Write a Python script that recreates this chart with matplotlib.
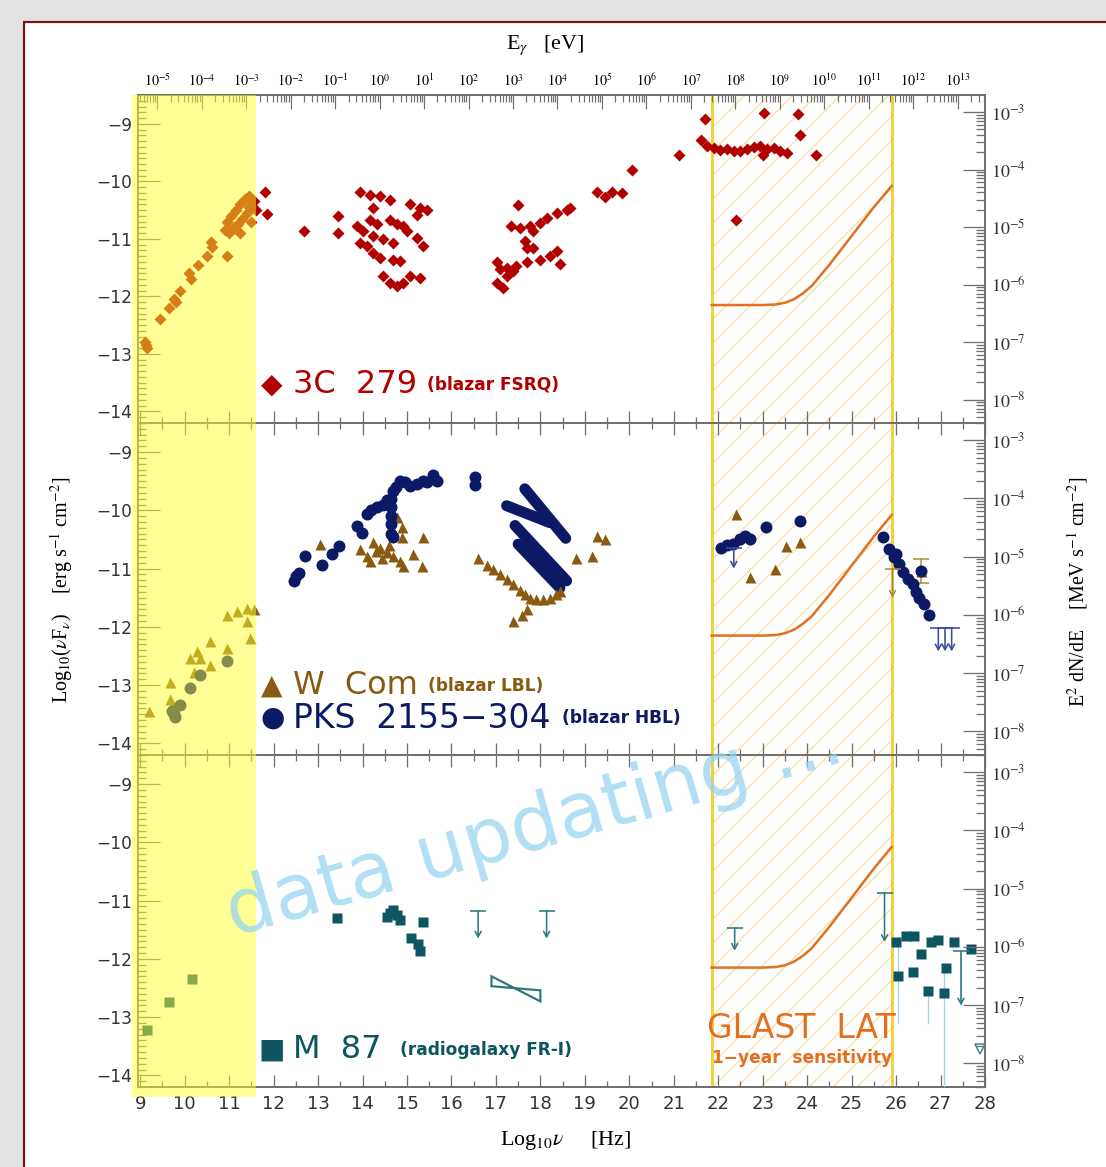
import numpy as np
import matplotlib
matplotlib.use("Agg")
import matplotlib.pyplot as plt
from matplotlib.patches import Rectangle
from matplotlib.ticker import MultipleLocator, LogLocator, FuncFormatter, NullFormatter

plt.rcParams['mathtext.fontset'] = 'stix'
plt.rcParams['hatch.linewidth'] = 1.6

# ---------------- data ----------------
# 3C 279 (log nu, log nuFnu)
c3_x = [9.10, 9.15, 9.12, 9.45, 9.65, 9.75, 9.80, 9.90, 10.10, 10.15, 10.30, 10.50, 10.60, 10.62, 10.95,
        10.90, 10.95, 11.00, 11.05, 11.10, 11.15, 11.20, 11.25, 11.30, 11.35, 11.40, 11.45, 11.50, 11.55,
        11.60, 11.25, 11.45, 11.05,
        11.81, 11.85, 12.69, 13.45, 13.45,
        13.94, 14.17, 14.39, 14.62, 14.24, 15.07, 15.29, 15.44, 15.22, 14.62, 14.77, 14.92, 14.99, 15.22,
        15.37, 13.87, 14.02, 14.24, 14.47, 14.69, 13.94, 14.09, 14.24, 14.39, 14.69, 14.84, 14.47, 14.62,
        14.77, 14.92, 15.07, 15.29, 14.17, 14.32,
        17.50, 17.35, 17.54, 17.77, 17.99, 18.14, 18.37, 18.59, 18.66, 17.84, 17.66, 17.69, 17.84, 17.02,
        17.09, 17.24, 17.46, 17.69, 17.99, 18.22, 18.37, 18.44, 17.02, 17.17, 17.24, 17.39,
        19.27, 19.45, 19.61, 19.83, 20.06, 21.11, 21.70, 21.61,
        21.75, 21.90, 22.05, 22.20, 22.35, 22.50, 22.65, 22.80, 22.95, 23.10, 23.25, 23.40, 23.55,
        23.04, 23.79, 23.83, 24.19, 22.39, 23.00]
c3_y = [-12.80, -12.90, -12.85, -12.40, -12.20, -12.05, -12.10, -11.90, -11.60, -11.70, -11.45, -11.30, -11.05, -11.15, -11.30,
        -10.85, -10.70, -10.90, -10.60, -10.80, -10.50, -10.75, -10.40, -10.65, -10.30, -10.55, -10.45, -10.70, -10.35,
        -10.50, -10.90, -10.25, -10.85,
        -10.18, -10.56, -10.87, -10.61, -10.90,
        -10.18, -10.24, -10.26, -10.32, -10.46, -10.40, -10.46, -10.49, -10.58, -10.67, -10.75, -10.78, -10.87, -10.98,
        -11.13, -10.78, -10.87, -10.95, -11.01, -11.07, -11.07, -11.13, -11.24, -11.33, -11.36, -11.39, -11.65, -11.76,
        -11.82, -11.76, -11.65, -11.68, -10.67, -10.75,
        -10.41, -10.78, -10.81, -10.78, -10.72, -10.63, -10.55, -10.49, -10.46, -10.86, -11.04, -11.16, -11.16, -11.41,
        -11.53, -11.50, -11.47, -11.41, -11.36, -11.30, -11.21, -11.44, -11.76, -11.85, -11.65, -11.56,
        -10.18, -10.28, -10.18, -10.21, -9.81, -9.55, -8.91, -9.28,
        -9.38, -9.42, -9.45, -9.43, -9.48, -9.47, -9.44, -9.40, -9.38, -9.43, -9.42, -9.48, -9.50,
        -8.81, -8.83, -9.19, -9.55, -10.68, -9.54]

# W Com
wc_x = [9.19, 9.67, 9.67, 9.71, 10.12, 10.27, 10.35, 10.57, 10.57, 10.20, 10.95, 10.95, 11.17, 11.40, 11.55, 11.40, 11.47,
        13.05, 13.95, 14.09, 14.24, 14.39, 14.54, 14.69, 14.84, 14.92, 14.77, 14.88, 14.88, 15.14, 15.33, 15.37,
        14.17, 14.43, 14.30, 14.60,
        16.60, 16.79, 16.94, 17.09, 17.24, 17.39, 17.54, 17.65, 17.76, 17.91, 18.06, 18.21, 18.36, 18.44,
        17.58, 17.39, 17.69, 18.81, 19.15, 19.27, 19.45,
        22.41, 23.53, 23.83, 23.27, 22.71, 22.41, 26.56]
wc_y = [-13.45, -12.94, -13.23, -13.34, -12.53, -12.42, -12.53, -12.25, -12.65, -12.77, -12.36, -11.79, -11.73, -11.67, -11.70, -11.90, -12.19,
        -10.58, -10.67, -10.78, -10.55, -10.64, -10.72, -10.78, -10.87, -10.95, -10.12, -10.29, -10.46, -10.75, -10.95, -10.46,
        -10.87, -10.81, -10.70, -10.60,
        -10.81, -10.93, -11.01, -11.10, -11.18, -11.27, -11.36, -11.44, -11.50, -11.53, -11.53, -11.50, -11.44, -11.39,
        -11.79, -11.90, -11.70, -10.81, -10.78, -10.44, -10.49,
        -10.06, -10.61, -10.55, -11.01, -11.15, -10.49, -11.04]
wc_err_x = [26.56]
wc_err_lo = [-11.25]
wc_err_hi = [-10.84]
wc_ul_x = [25.92]
wc_ul_cap = [-11.00]
wc_ul_tip = [-11.50]

# PKS 2155-304
pks_x = [9.71, 9.78, 9.90, 10.12, 10.35, 10.95, 9.75,
         12.45, 12.50, 12.56, 12.71, 13.08, 13.31, 13.46, 13.87, 13.98, 14.09, 14.32, 14.54, 14.69, 14.84,
         15.07, 15.22, 15.44, 15.59, 15.67, 14.65, 14.65, 14.65, 14.65, 14.65, 14.69, 14.20, 14.45, 14.75,
         14.95, 15.35,
         16.53, 16.53,
         22.07, 22.33, 22.60, 22.71, 23.08, 23.83, 22.20, 22.50,
         25.71, 25.85, 26.00, 26.07, 26.26, 26.37, 26.52, 26.56, 26.75, 25.95, 26.15, 26.45, 26.62]
pks_y = [-13.45, -13.54, -13.34, -13.05, -12.82, -12.59, -13.50,
         -11.21, -11.12, -11.07, -10.78, -10.93, -10.75, -10.61, -10.26, -10.38, -10.06, -9.95, -9.83, -9.66, -9.49,
         -9.58, -9.55, -9.52, -9.40, -9.49, -9.80, -9.95, -10.10, -10.24, -10.40, -10.46, -10.00, -9.90, -9.60,
         -9.52, -9.50,
         -9.43, -9.57,
         -10.64, -10.58, -10.44, -10.49, -10.29, -10.18, -10.60, -10.50,
         -10.46, -10.67, -10.75, -10.92, -11.18, -11.27, -11.50, -11.04, -11.79, -10.80, -11.05, -11.40, -11.60]
# X-ray spectra (bands)
pks_band1_x = [17.65, 18.57]
pks_band1_y = [-9.63, -10.48]
pks_band2_x = [17.24, 18.21]
pks_band2_y = [-9.92, -10.21]
pks_band3_x = [17.43, 18.59]
pks_band3_y = [-10.26, -11.21]
pks_band4_x = [17.50, 18.44]
pks_band4_y = [-10.58, -11.33]
pks_ul_x = [22.35, 26.95, 27.10, 27.25]
pks_ul_cap = [-10.65, -12.02, -12.02, -12.02]
pks_ul_tip = [-11.00, -12.42, -12.42, -12.42]

# M 87
m87_x = [9.15, 9.64, 10.16,
         13.42, 14.54, 14.62, 14.69, 14.77, 14.84, 15.37, 15.10, 15.25, 15.29,
         26.00, 26.22, 26.41, 26.56, 26.79, 26.94, 27.31, 27.69, 26.04, 26.38, 27.13, 26.71, 27.08]
m87_y = [-13.22, -12.74, -12.34,
         -11.30, -11.28, -11.22, -11.16, -11.25, -11.33, -11.36, -11.65, -11.74, -11.86,
         -11.71, -11.60, -11.60, -11.92, -11.71, -11.68, -11.71, -11.83, -12.29, -12.23, -12.16, -12.55, -12.58]
m87_err_x = [26.04, 26.71, 27.08, 27.46]
m87_err_top = [-11.75, -12.55, -12.10, -11.90]
m87_err_bot = [-13.10, -13.10, -14.20, -12.80]
m87_ul_x = [16.60, 18.14, 22.37, 25.74, 27.46]
m87_ul_cap = [-11.18, -11.18, -11.47, -10.87, -11.86]
m87_ul_tip = [-11.65, -11.65, -11.86, -11.71, -12.80]
m87_bowtie_x = [16.90, 18.00, 18.00, 16.90]
m87_bowtie_y = [-12.30, -12.73, -12.54, -12.47]
m87_lim_x = [27.88]
m87_lim_y = [-13.55]

# GLAST LAT 1-year sensitivity
glast_x = [21.85, 22.5, 23.0, 23.3, 23.5, 23.7, 23.9, 24.1, 24.5, 25.0, 25.5, 25.9]
glast_y = [-12.15, -12.15, -12.15, -12.14, -12.11, -12.05, -11.95, -11.82, -11.45, -10.95, -10.45, -10.08]
glast_band = (21.85, 25.9)
radio_edge = 11.6

XLIM = (8.95, 28.0)
YLIM = (-14.2, -8.5)
LOG_ERG_TO_MEV = np.log10(1.0 / 1.602e-6)
LOG_H_EV = np.log10(4.1357e-15)

RED = '#b00000'
BROWN = '#8a5a12'
NAVY = '#0c1a66'
TEAL = '#0d5560'
ORANGE = '#e2701f'
GREY = '#707070'

# ---------------- figure ----------------
W, H = 1106, 1167
DPI = 72
fig = plt.figure(figsize=(W / DPI, H / DPI), dpi=DPI)
fig.patch.set_facecolor('#e3e3e3')
fig.patches.append(Rectangle((24 / W, -0.02), 1.0, 1 - 22 / H + 0.02, transform=fig.transFigure,
                             facecolor='white', edgecolor='#7a1515', lw=2.2, zorder=-10))

L, R = 138 / W, 985 / W
panels = [(95, 423), (423, 755), (755, 1087)]
axes = []
for i, (t, b) in enumerate(panels):
    ax = fig.add_axes([L, 1 - b / H, R - L, (b - t) / H])
    ax.set_facecolor('none')
    ax.set_xlim(*XLIM)
    ax.set_ylim(*YLIM)
    ax.xaxis.set_major_locator(MultipleLocator(1))
    ax.xaxis.set_minor_locator(MultipleLocator(0.5))
    ax.yaxis.set_major_locator(MultipleLocator(1))
    ax.yaxis.set_minor_locator(MultipleLocator(0.1))
    ax.tick_params(axis='x', which='both', direction='in', top=(i > 0), bottom=True,
                   color=GREY, width=1.3, labelbottom=(i == 2), labelsize=18, pad=8, labelcolor='#333333')
    ax.tick_params(axis='x', which='major', length=12)
    ax.tick_params(axis='x', which='minor', length=6)
    ax.tick_params(axis='y', which='both', direction='in', left=True, right=False,
                   color=GREY, width=1.3, labelsize=17, pad=6, labelcolor='#333333')
    ax.tick_params(axis='y', which='major', length=22)
    ax.tick_params(axis='y', which='minor', length=8)
    for s in ax.spines.values():
        s.set_color(GREY)
        s.set_linewidth(2)
    ax.yaxis.set_major_formatter(FuncFormatter(lambda v, p: '\u2212%d' % round(-v)))

    # right axis: E^2 dN/dE [MeV s-1 cm-2]
    axr = ax.twinx()
    axr.set_yscale('log')
    axr.set_ylim(10 ** (YLIM[0] + LOG_ERG_TO_MEV), 10 ** (YLIM[1] + LOG_ERG_TO_MEV))
    axr.yaxis.set_major_locator(LogLocator(base=10))
    axr.yaxis.set_minor_locator(LogLocator(base=10, subs=np.arange(2, 10)))
    axr.yaxis.set_minor_formatter(NullFormatter())
    axr.yaxis.set_major_formatter(FuncFormatter(lambda v, p: r'$10^{%d}$' % round(np.log10(v))))
    axr.tick_params(axis='y', which='both', direction='in', color=GREY, width=1.3, labelsize=18, pad=6,
                    labelcolor='#333333')
    axr.tick_params(axis='y', which='major', length=22)
    axr.tick_params(axis='y', which='minor', length=9)
    for s in axr.spines.values():
        s.set_visible(False)

    # GLAST band
    ax.axvspan(*glast_band, facecolor='none', edgecolor='#f8e2b2', hatch='/', lw=0, zorder=0.5)
    for gx in glast_band:
        ax.axvline(gx, color='#f4d23a', lw=3, zorder=1)
    ax.plot(glast_x, glast_y, color=ORANGE, lw=2.5, zorder=2)
    axes.append(ax)

ax1, ax2, ax3 = axes
ax1.tick_params(axis='x', which='both', top=False)

# top energy axis
axe = fig.add_axes(ax1.get_position(), facecolor='none')
axe.set_xscale('log')
axe.set_xlim(10 ** (XLIM[0] + LOG_H_EV), 10 ** (XLIM[1] + LOG_H_EV))
axe.yaxis.set_visible(False)
for k in ['left', 'right', 'bottom']:
    axe.spines[k].set_visible(False)
axe.spines['top'].set_color(GREY)
axe.spines['top'].set_linewidth(2)
axe.xaxis.tick_top()
axe.xaxis.set_major_locator(LogLocator(base=10, numticks=40))
axe.xaxis.set_minor_locator(LogLocator(base=10, subs=np.arange(2, 10), numticks=40))
axe.xaxis.set_minor_formatter(NullFormatter())
axe.xaxis.set_major_formatter(FuncFormatter(lambda v, p: r'$10^{%d}$' % round(np.log10(v))))
axe.tick_params(axis='x', which='both', direction='in', color=GREY, width=1.2, labelsize=14, pad=6)
axe.tick_params(axis='x', which='major', length=14)
axe.tick_params(axis='x', which='minor', length=7)

# ---------------- data marks ----------------
mk = dict(ls='none', mec='none', zorder=4)
ax1.plot(c3_x, c3_y, marker='D', ms=8, color=RED, **mk)

for bx, by in [(pks_band1_x, pks_band1_y), (pks_band2_x, pks_band2_y),
               (pks_band3_x, pks_band3_y), (pks_band4_x, pks_band4_y)]:
    ax2.plot(bx, by, color=NAVY, lw=11, solid_capstyle='round', zorder=3)
ax2.plot(wc_x, wc_y, marker='^', ms=11, color=BROWN, **mk)
ax2.plot(pks_x, pks_y, marker='o', ms=12, color=NAVY, **mk)


def upper_limits(ax, xs, caps, tips, color, lw=1.6):
    for x, c, t in zip(xs, caps, tips):
        ax.annotate('', xy=(x, t), xytext=(x, c),
                    arrowprops=dict(arrowstyle='->,head_length=0.55,head_width=0.3', color=color,
                                    lw=lw, shrinkA=0, shrinkB=0), zorder=5)
        ax.plot([x], [c], marker='_', ms=16, mew=lw, color=color, zorder=5)


upper_limits(ax2, pks_ul_x, pks_ul_cap, pks_ul_tip, '#3a4c9a')
upper_limits(ax2, wc_ul_x, wc_ul_cap, wc_ul_tip, '#b08a3a')
for x, lo, hi in zip(wc_err_x, wc_err_lo, wc_err_hi):
    ax2.plot([x, x], [lo, hi], color='#b08a3a', lw=1.5, zorder=3)
    ax2.plot([x, x], [lo, hi], marker='_', ms=16, mew=1.5, ls='none', color='#b08a3a', zorder=3)

for x, t, b in zip(m87_err_x, m87_err_top, m87_err_bot):
    ax3.plot([x, x], [t, b], color='#a9cfe0', lw=1.3, zorder=3)
ax3.plot(m87_x, m87_y, marker='s', ms=10, color=TEAL, **mk)
upper_limits(ax3, m87_ul_x, m87_ul_cap, m87_ul_tip, '#2f7880')
ax3.fill(m87_bowtie_x, m87_bowtie_y, facecolor='none', edgecolor='#2f7880', lw=2.2, zorder=4)
ax3.plot(m87_lim_x, m87_lim_y, marker='v', ms=10, mfc='none', mec='#3f8890', mew=1.5, ls='none', zorder=4)

# ---------------- labels / annotations ----------------
def label(ax, px_sym, y, sym, col, name, px_suffix, suffix, name_size=32, sym_size=28):
    xs = (px_sym - 138) / 847
    ax.text(xs, y, sym, transform=ax.transAxes, color=col, fontsize=sym_size, ha='center', va='center', zorder=6)
    ax.text((293 - 138) / 847, y, name, transform=ax.transAxes, color=col, fontsize=name_size,
            ha='left', va='center', zorder=6)
    ax.text((px_suffix - 138) / 847, y, suffix, transform=ax.transAxes, color=col, fontsize=17,
            fontweight='bold', ha='left', va='center', zorder=6)


label(ax1, 272, (423 - 385) / 328, '\u25c6', RED, '3C  279', 427, '(blazar FSRQ)')
label(ax2, 272, (755 - 686) / 332, '\u25b2', BROWN, 'W  Com', 428, '(blazar LBL)')
label(ax2, 273, (755 - 718) / 332, '\u25cf', NAVY, 'PKS  2155\u2212304', 562, '(blazar HBL)', name_size=33)
label(ax3, 272, (1087 - 1050) / 332, '\u25a0', TEAL, 'M  87', 400, '(radiogalaxy FR-I)')

ax3.text(np.mean(glast_band), -13.2, 'GLAST  LAT', color=ORANGE, fontsize=33, ha='center', va='center', zorder=6)
ax3.text(np.mean(glast_band), -13.7, '1\u2212year  sensitivity', color=ORANGE, fontsize=17,
         fontweight='bold', ha='center', va='center', zorder=6)

serif = 'Liberation Serif'
fig.text(545 / W, 1 - 45 / H, r'E$_\gamma$   [eV]', fontsize=22, family=serif, ha='center', va='center')
fig.text(565 / W, 1 - 1140 / H, r'Log$_{10}\nu$     [Hz]', fontsize=22, family=serif, ha='center', va='center')
fig.text(62 / W, 1 - 590 / H, r'Log$_{10}$($\nu$F$_\nu$)    [erg s$^{-1}$ cm$^{-2}$]', fontsize=20,
         family=serif, rotation=90, ha='center', va='center')
fig.text(1078 / W, 1 - 592 / H, r'E$^2$ dN/dE    [MeV s$^{-1}$ cm$^{-2}$]', fontsize=20,
         family=serif, rotation=90, ha='center', va='center')

# translucent yellow band over the radio region (all panels)
fig.canvas.draw()
inv = fig.transFigure.inverted()
xr = inv.transform(ax1.transData.transform((radio_edge, 0)))[0]
x0 = inv.transform(ax1.transData.transform((XLIM[0], 0)))[0] - 6 / W
ytop = ax1.get_position().y1
ybot = ax3.get_position().y0 - 10 / H
fig.patches.append(Rectangle((x0, ybot), xr - x0, ytop - ybot, transform=fig.transFigure,
                             facecolor='#ffff2e', alpha=0.5, lw=0, zorder=5))

# watermark
fig.text(535 / W, 1 - 828 / H, 'data updating ...', rotation=16, rotation_mode='anchor',
         color='#93d3f0', alpha=0.72, fontsize=77, family='DejaVu Sans',
         ha='center', va='center', zorder=20)

fig.savefig('out.png', dpi=DPI, facecolor=fig.get_facecolor())
